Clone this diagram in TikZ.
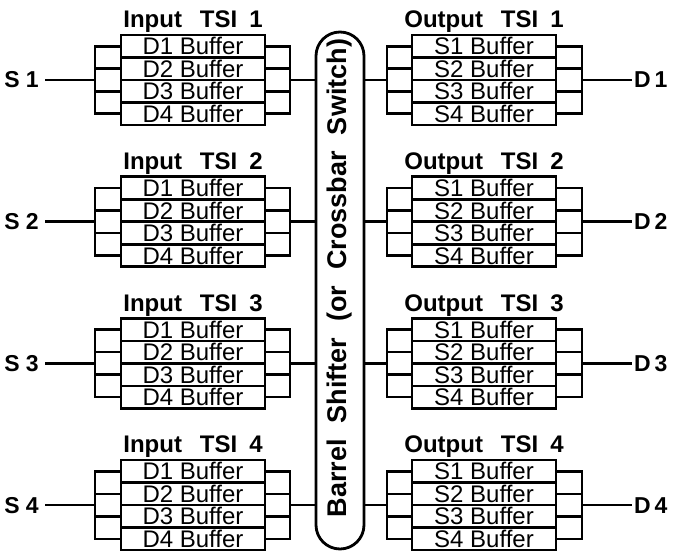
\documentclass[tikz,border=0pt]{standalone}
\usepackage{fontspec}
\setmainfont{Liberation Sans}
\usetikzlibrary{positioning}
\tikzset{
  wire/.style={line width=2.6pt, line cap=rect},
  buffer/.style={draw, line width=2.6pt, minimum width=144pt, minimum height=22.5pt,
    inner sep=0pt, outer sep=0pt, font=\fontsize{24}{24}\selectfont},
  tsi/.style={inner sep=0pt, font=\bfseries\fontsize{24}{24}\selectfont},
  port/.style={inner xsep=7pt, inner ysep=0pt, font=\bfseries\fontsize{23}{23}\selectfont},
  switchbox/.style={draw, line width=2.8pt, rounded corners=24pt, minimum width=48pt,
    minimum height=517pt, inner sep=0pt},
  switchtext/.style={inner sep=0pt, font=\bfseries\fontsize{27}{27}\selectfont},
}
\begin{document}
\begin{tikzpicture}[x=1pt,y=-1pt]
\useasboundingbox (0,0) rectangle (674,551);
% barrel shifter
\node[switchbox] (bs) at (340,290.5) {};
\node[switchtext, rotate=90] (bstext) at (340,278)
  {Barrel\hspace{16pt}Shifter\hspace{16pt}(or\hspace{16pt}Crossbar\hspace{16pt}Switch)};
\foreach \blk in {1,...,4}{
  \pgfmathsetmacro{\yy}{80+141.7*(\blk-1)}
  % input TSI
  \node[buffer] (inb\blk1) at (193,\yy-33.75) {D1 Buffer};
  \foreach \row [count=\prev from 1] in {2,3,4}
    \node[buffer, below=0pt of inb\blk\prev] (inb\blk\row) {D\row{} Buffer};
  \node[tsi, above=2pt of inb\blk1] (intitle\blk) {Input\hspace{18pt}TSI\hspace{12pt}\blk};
  \coordinate (inl\blk) at (95,\yy);
  \coordinate (inr\blk) at (290,\yy);
  \node[port, anchor=east] (s\blk) at (46,\yy) {S \blk};
  \draw[wire] (s\blk) -- (inl\blk);
  \draw[wire] (inb\blk1.west -| inl\blk) -- (inb\blk4.west -| inl\blk);
  \draw[wire] (inb\blk1.east -| inr\blk) -- (inb\blk4.east -| inr\blk);
  \foreach \row in {1,...,4}{
    \draw[wire] (inb\blk\row.west -| inl\blk) -- (inb\blk\row.west);
    \draw[wire] (inb\blk\row.east) -- (inb\blk\row.east -| inr\blk);
  }
  \draw[wire] (inr\blk) -- (inr\blk -| bs.west);
  % output TSI
  \node[buffer] (outb\blk1) at (484,\yy-33.75) {S1 Buffer};
  \foreach \row [count=\prev from 1] in {2,3,4}
    \node[buffer, below=0pt of outb\blk\prev] (outb\blk\row) {S\row{} Buffer};
  \node[tsi, above=2pt of outb\blk1] (outtitle\blk) {Output\hspace{18pt}TSI\hspace{12pt}\blk};
  \coordinate (outl\blk) at (387,\yy);
  \coordinate (outr\blk) at (582,\yy);
  \node[port, inner xsep=3pt, anchor=west] (d\blk) at (631,\yy) {D\,\blk};
  \draw[wire] (outl\blk -| bs.east) -- (outl\blk);
  \draw[wire] (outb\blk1.west -| outl\blk) -- (outb\blk4.west -| outl\blk);
  \draw[wire] (outb\blk1.east -| outr\blk) -- (outb\blk4.east -| outr\blk);
  \foreach \row in {1,...,4}{
    \draw[wire] (outb\blk\row.west -| outl\blk) -- (outb\blk\row.west);
    \draw[wire] (outb\blk\row.east) -- (outb\blk\row.east -| outr\blk);
  }
  \draw[wire] (outr\blk) -- (d\blk);
}
\end{tikzpicture}
\end{document}
